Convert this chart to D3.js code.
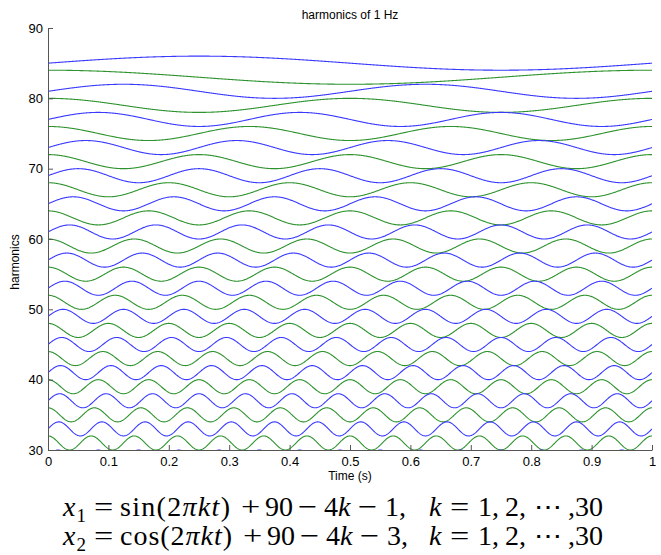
<!DOCTYPE html>
<html><head><meta charset="utf-8">
<script src="https://cdn.jsdelivr.net/npm/d3@7"></script>
<style>body{margin:0;background:#fff}svg{display:block}</style>
</head><body>
<svg id="chart" width="661" height="555"></svg>
<script>
// Data
const harmonics = [1,2,3,4,5,6,7,8,9,10,11,12,13,14,15,16,17,18,19,20,21,22,23,24,25,26,27,28,29,30];
const sinOffsets = [85,81,77,73,69,65,61,57,53,49,45,41,37,33,29,25,21,17,13,9,5,1,-3,-7,-11,-15,-19,-23,-27,-31];
const cosOffsets = [83,79,75,71,67,63,59,55,51,47,43,39,35,31,27,23,19,15,11,7,3,-1,-5,-9,-13,-17,-21,-25,-29,-33];
const xTicks = [0,0.1,0.2,0.3,0.4,0.5,0.6,0.7,0.8,0.9,1];
const yTicks = [30,40,50,60,70,80,90];
const timeSamples = d3.range(0, 1.0001, 0.001);

const svg = d3.select("#chart");
const x = d3.scaleLinear().domain([0,1]).range([48,652]);
const y = d3.scaleLinear().domain([30,90]).range([450,28]);

svg.append("clipPath").attr("id","clip").append("rect")
  .attr("x",48).attr("y",28).attr("width",604).attr("height",422);

const g = svg.append("g").attr("clip-path","url(#clip)");
const line = d3.line().x(d=>x(d[0])).y(d=>y(d[1]));

harmonics.forEach((k,i)=>{
  const s = timeSamples.map(t=>[t, Math.sin(2*Math.PI*k*t)+sinOffsets[i]]);
  const c = timeSamples.map(t=>[t, Math.cos(2*Math.PI*k*t)+cosOffsets[i]]);
  g.append("path").attr("d",line(s)).attr("fill","none").attr("stroke","#3a3aff").attr("stroke-width",1.1);
  g.append("path").attr("d",line(c)).attr("fill","none").attr("stroke","#2e932e").attr("stroke-width",1.1);
});

// Axes
const xAxis = d3.axisBottom(x).tickValues(xTicks).tickSizeInner(-5).tickSizeOuter(0).tickPadding(7)
  .tickFormat(d=> d===0?"0":d===1?"1":d3.format(".1f")(d));
const yAxis = d3.axisLeft(y).tickValues(yTicks).tickSizeInner(-5).tickSizeOuter(0).tickPadding(5);

const gx = svg.append("g").attr("transform","translate(0,450)").call(xAxis);
const gy = svg.append("g").attr("transform","translate(48,0)").call(yAxis);
[gx,gy].forEach(a=>{
  a.selectAll("path,line").attr("stroke","#555").attr("stroke-width",1);
  a.selectAll("text").attr("font-family","Liberation Sans, Arial, sans-serif").attr("font-size",13).attr("fill","#000");
});

svg.append("text").attr("x",350).attr("y",19).attr("text-anchor","middle")
  .attr("font-family","Liberation Sans, Arial, sans-serif").attr("font-size",12).text("harmonics of 1 Hz");
svg.append("text").attr("x",350).attr("y",480).attr("text-anchor","middle")
  .attr("font-family","Liberation Sans, Arial, sans-serif").attr("font-size",12).text("Time (s)");
svg.append("text").attr("transform","translate(19,262) rotate(-90)").attr("text-anchor","middle")
  .attr("font-family","Liberation Sans, Arial, sans-serif").attr("font-size",12).text("harmonics");

// Formulas
const formulas = [
  {sub:"1", fn:"sin", c:"1", shift:0, fnLen:110},
  {sub:"2", fn:"cos", c:"3", shift:2, fnLen:112}
];
const FF = "Liberation Serif, serif";
formulas.forEach((f,i)=>{
  const base = 516 + i*29;
  const fg = svg.append("g").attr("fill","#000").attr("font-family",FF).attr("font-size",28);
  const txt = (xx, sh) => fg.append("text").attr("x", xx + (sh?f.shift:0)).attr("y", base);
  const op = (sym, xx, sh) => fg.append("text")
      .attr("transform", `translate(${xx + (sh?f.shift:0)},${base}) scale(1.22,1)`).text(sym);

  const t1 = txt(63,0);
  t1.append("tspan").attr("font-style","italic").text("x");
  t1.append("tspan").attr("font-size",19).attr("dy",6).attr("dx",1).text(f.sub);

  op("=", 94, 0);

  const t2 = txt(120,0).attr("textLength",f.fnLen).attr("lengthAdjust","spacing");
  t2.append("tspan").text(f.fn+"(2");
  t2.append("tspan").attr("font-style","italic").text("π");
  t2.append("tspan").attr("font-style","italic").text("kt");
  t2.append("tspan").text(")");

  op("+", 241, 1);
  txt(265,1).text("90");
  op("−", 298, 1);
  const t3 = txt(324,1);
  t3.append("tspan").text("4");
  t3.append("tspan").attr("font-style","italic").text("k");
  op("−", 358, 1);
  txt(385,1).text(f.c+",");

  txt(429,0).attr("font-style","italic").text("k");
  op("=", 450, 0);
  const t4 = txt(478,0);
  t4.append("tspan").text("1,");
  t4.append("tspan").attr("dx",6).text("2,");
  t4.append("tspan").attr("dx",8).text("⋯");
  t4.append("tspan").attr("dx",6).text(",30");
});
</script>
</body></html>
